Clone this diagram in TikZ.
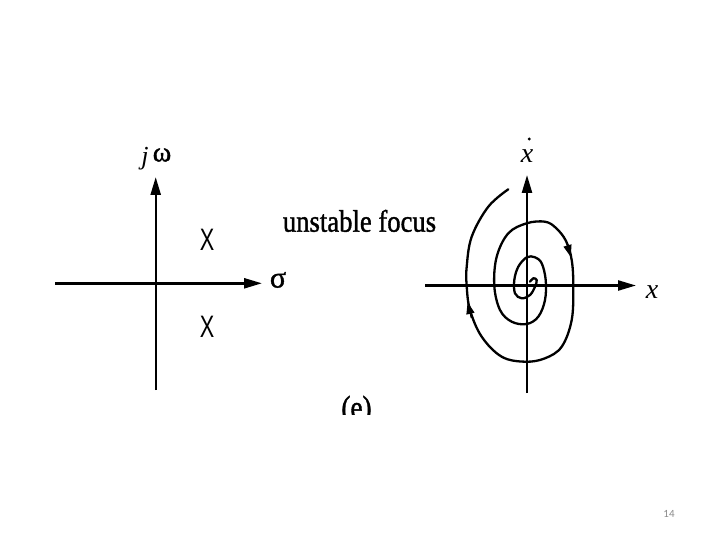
\documentclass[tikz,border=0pt]{standalone}
\usepackage{fontspec}
\setmainfont{Liberation Serif}
\newfontfamily\sansX{Liberation Sans}
\newfontfamily\heavyserif[FakeBold=1.3]{Liberation Serif}
\newfontfamily\calib{Carlito}
\usetikzlibrary{arrows.meta}
\definecolor{pagegray}{HTML}{8A8A8A}
\tikzset{
  axis/.style={line width=2.4pt, -{Triangle[length=18pt,width=10pt]}},
  curve/.style={line width=2.3pt, line cap=round, line join=round},
  flowtip/.style={line width=1.5pt, -{Triangle[length=12pt,width=8pt]}},
  lbl/.style={inner sep=0pt, outer sep=0pt}
}
\begin{document}
\begin{tikzpicture}[x=1pt,y=-1pt]
\useasboundingbox (0,0) rectangle (720,540);
% ---- left: s-plane ----
\coordinate (lvB) at (155.7,390);
\coordinate (lvT) at (155.7,177);
\coordinate (lhL) at (55,283.3);
\coordinate (lhR) at (262,283.3);
\draw[axis] (lhL) -- (lhR);
\draw[axis] (lvB) -- (lvT);
\node[lbl] (jl) at (145,159) {\fontsize{26}{26}\selectfont\itshape j};
\node[lbl] (wl) at (162,155) {\heavyserif\fontsize{28}{28}\selectfont ω};
\node[lbl] (sigma) at (278,280) {\heavyserif\fontsize{30}{30}\selectfont σ};
\node[lbl, xscale=0.7] (p1) at (207,240) {\sansX\fontsize{31}{31}\selectfont X};
\node[lbl, xscale=0.7] (p2) at (207,327) {\sansX\fontsize{31}{31}\selectfont X};
% ---- title ----
\node[lbl, anchor=base, xscale=0.86] (title) at (359.5,231.7) {\heavyserif\fontsize{31}{31}\selectfont unstable focus};
\begin{scope}
\clip (320,380) rectangle (400,414);
\node[lbl, anchor=base, xscale=0.85] (cap) at (356.5,418) {\heavyserif\fontsize{32}{32}\selectfont (e)};
\end{scope}
% ---- right: phase plane ----
\coordinate (rvB) at (527,393);
\coordinate (rvT) at (527,175);
\coordinate (rhL) at (425,285.5);
\coordinate (rhR) at (636,285.5);
\draw[axis] (rhL) -- (rhR);
\draw[axis] (rvB) -- (rvT);
\node[lbl, anchor=base] (xv) at (527,163) {\fontsize{28}{28}\selectfont\itshape x};
\fill (529.3,139) circle (1.6pt);
\node[lbl, anchor=base] (xl) at (652,298) {\fontsize{28}{28}\selectfont\itshape x};
\draw[curve] plot[smooth, tension=0.6] coordinates {
(508.3,189.3) (488.3,206.7) (471.7,236.7) (466.7,266.7) (466.7,286) (470,310)
(481.7,336.7) (501.7,356.7) (525,361.7) (545,358.3) (561.7,346.7) (571.7,320)
(573.3,286) (571.7,260) (566,241) (556,228) (545,221.7) (526.7,223.3) (508.3,233.3)
(496.7,256.7) (494.3,286) (500,310) (511.7,321.7) (526.7,324) (538.3,316.7)
(545,300) (545.7,280) (541.7,263.3) (535,257.3) (526.7,257.3) (518.3,266.7)
(514.3,280) (515,293.3) (521.7,298.3) (530,295) (535,286.7) (536.7,280)
(533.3,278.3) (530,281.7)};
\coordinate (a1s) at (566.5,242);
\coordinate (a1e) at (570.8,257);
\coordinate (a2s) at (471.5,318);
\coordinate (a2e) at (467.6,302);
\draw[flowtip] (a1s) -- (a1e);
\draw[flowtip] (a2s) -- (a2e);
% ---- page number ----
\node[lbl, text=pagegray] (pg) at (669,514) {\calib\fontsize{11}{11}\selectfont 14};
\end{tikzpicture}
\end{document}
